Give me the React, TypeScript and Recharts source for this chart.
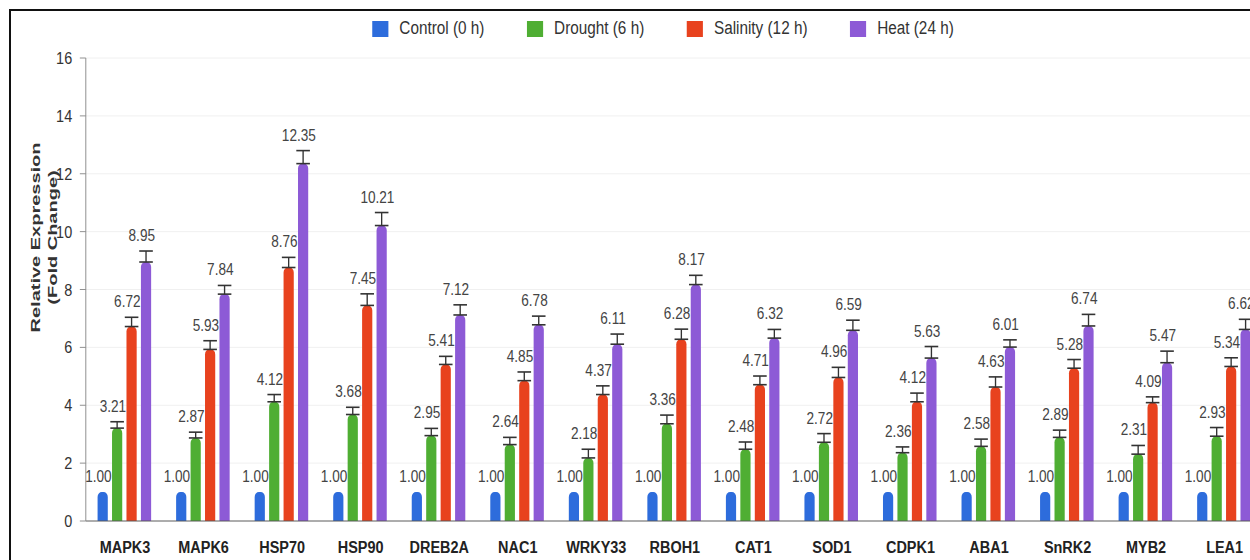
import { Bar, BarChart, CartesianGrid, ErrorBar, Label, LabelList, Legend, XAxis, YAxis } from "recharts";

const genes = ["MAPK3", "MAPK6", "HSP70", "HSP90", "DREB2A", "NAC1", "WRKY33", "RBOH1", "CAT1", "SOD1", "CDPK1", "ABA1", "SnRK2", "MYB2", "LEA1"];

const control = [1.0, 1.0, 1.0, 1.0, 1.0, 1.0, 1.0, 1.0, 1.0, 1.0, 1.0, 1.0, 1.0, 1.0, 1.0];
const drought = [3.21, 2.87, 4.12, 3.68, 2.95, 2.64, 2.18, 3.36, 2.48, 2.72, 2.36, 2.58, 2.89, 2.31, 2.93];
const salinity = [6.72, 5.93, 8.76, 7.45, 5.41, 4.85, 4.37, 6.28, 4.71, 4.96, 4.12, 4.63, 5.28, 4.09, 5.34];
const heat = [8.95, 7.84, 12.35, 10.21, 7.12, 6.78, 6.11, 8.17, 6.32, 6.59, 5.63, 6.01, 6.74, 5.47, 6.62];

// upper error (SD)
const droughtErr = [0.22, 0.2, 0.25, 0.25, 0.25, 0.25, 0.3, 0.3, 0.25, 0.3, 0.2, 0.25, 0.25, 0.3, 0.3];
const salinityErr = [0.32, 0.3, 0.35, 0.4, 0.28, 0.3, 0.3, 0.35, 0.3, 0.35, 0.3, 0.35, 0.3, 0.2, 0.3];
const heatErr = [0.38, 0.3, 0.45, 0.45, 0.35, 0.3, 0.35, 0.32, 0.3, 0.35, 0.4, 0.25, 0.4, 0.4, 0.35];

const seriesNames = ["Control (0 h)", "Drought (6 h)", "Salinity (12 h)", "Heat (24 h)"];
const seriesColors = ["#2d6cdc", "#4fae33", "#e8421e", "#8d5ad6"];
const yTicks = [0, 2, 4, 6, 8, 10, 12, 14, 16];

const FONT = '"Liberation Sans", Arial, sans-serif';
// the whole figure is drawn a bit wider and squeezed horizontally (condensed look of the original)
const SQUEEZE = 0.85;
const CHART_W = 1520;
const CHART_H = 550;

const data = genes.map((gene, i) => ({
  gene,
  control: control[i],
  drought: drought[i],
  droughtErr: [0, droughtErr[i]],
  salinity: salinity[i],
  salinityErr: [0, salinityErr[i]],
  heat: heat[i],
  heatErr: [0, heatErr[i]],
}));

// value label sitting above the error cap
const valueLabel = (errs: number[] | null) => (props: any) => {
  const vb = props.viewBox ?? props;
  const x = vb.x ?? props.x;
  const y = vb.y ?? props.y;
  const width = vb.width ?? props.width;
  const height = vb.height ?? props.height;
  const raw = Array.isArray(props.value) ? props.value[1] : props.value;
  const value = Number(raw);
  const pxPerUnit = value ? height / value : 0;
  const err = errs ? errs[props.index] : 0;
  const top = y - err * pxPerUnit;
  return (
    <text x={x + width / 2 - 5} y={top - 10} textAnchor="middle" fontFamily={FONT} fontSize={16} fill="#444">
      {value.toFixed(2)}
    </text>
  );
};

const YAxisTitle = (props: any) => {
  const vb = props.viewBox;
  const cx = vb.x + 14;
  const cy = vb.y + vb.height / 2 - 52;
  const textProps = { textAnchor: "middle" as const, fontFamily: FONT, fontWeight: 700, fontSize: 20, fill: "#333" };
  return (
    <g transform={`translate(${cx},${cy}) rotate(-90) scale(1,0.78)`}>
      <text y={-5} {...textProps}>
        Relative Expression
      </text>
      <text y={21} {...textProps}>
        (Fold Change)
      </text>
    </g>
  );
};

const renderLegend = () => (
  <div
    style={{
      display: "flex",
      justifyContent: "center",
      gap: 50,
      paddingLeft: 14,
      fontFamily: FONT,
      fontSize: 18,
      color: "#333",
    }}
  >
    {seriesNames.map((name, i) => (
      <div key={name} style={{ display: "flex", alignItems: "center" }}>
        <span style={{ display: "inline-block", width: 19, height: 16, background: seriesColors[i], marginRight: 13 }} />
        {name}
      </div>
    ))}
  </div>
);

export default function App() {
  return (
    <div
      style={{
        position: "absolute",
        top: 9,
        left: 9,
        width: 1241,
        height: 551,
        overflow: "hidden",
        borderTop: "2px solid #111",
        borderLeft: "2px solid #111",
        boxSizing: "border-box",
        background: "#fff",
      }}
    >
      <div style={{ width: CHART_W, height: CHART_H, transform: `scaleX(${SQUEEZE})`, transformOrigin: "0 0" }}>
        <BarChart
          width={CHART_W}
          height={CHART_H}
          data={data}
          margin={{ top: 47, right: 46, bottom: 0, left: 24 }}
          barCategoryGap="15%"
          barGap={5}
        >
          <CartesianGrid vertical={false} stroke="#efefef" />
          <Legend verticalAlign="middle" align="center" content={renderLegend} wrapperStyle={{ top: 7, left: 0, width: CHART_W }} />
          <XAxis
            dataKey="gene"
            interval={0}
            tickLine={false}
            tickSize={0}
            tickMargin={20}
            height={40}
            axisLine={{ stroke: "#555" }}
            tick={{ fontSize: 17, fontWeight: 700, fill: "#222", fontFamily: FONT }}
          />
          <YAxis
            domain={[0, 16]}
            ticks={yTicks}
            width={64}
            tickSize={7}
            tickMargin={9}
            axisLine={{ stroke: "#888" }}
            tickLine={{ stroke: "#888" }}
            tick={{ fontSize: 17, fill: "#333", fontFamily: FONT }}
          >
            <Label content={YAxisTitle} />
          </YAxis>
          <Bar dataKey="control" name={seriesNames[0]} fill={seriesColors[0]} radius={[5, 5, 0, 0]} isAnimationActive={false}>
            <LabelList content={valueLabel(null)} />
          </Bar>
          <Bar dataKey="drought" name={seriesNames[1]} fill={seriesColors[1]} radius={[5, 5, 0, 0]} isAnimationActive={false}>
            <ErrorBar dataKey="droughtErr" width={8} strokeWidth={1.6} stroke="#333" direction="y" />
            <LabelList content={valueLabel(droughtErr)} />
          </Bar>
          <Bar dataKey="salinity" name={seriesNames[2]} fill={seriesColors[2]} radius={[5, 5, 0, 0]} isAnimationActive={false}>
            <ErrorBar dataKey="salinityErr" width={8} strokeWidth={1.6} stroke="#333" direction="y" />
            <LabelList content={valueLabel(salinityErr)} />
          </Bar>
          <Bar dataKey="heat" name={seriesNames[3]} fill={seriesColors[3]} radius={[5, 5, 0, 0]} isAnimationActive={false}>
            <ErrorBar dataKey="heatErr" width={8} strokeWidth={1.6} stroke="#333" direction="y" />
            <LabelList content={valueLabel(heatErr)} />
          </Bar>
        </BarChart>
      </div>
    </div>
  );
}
